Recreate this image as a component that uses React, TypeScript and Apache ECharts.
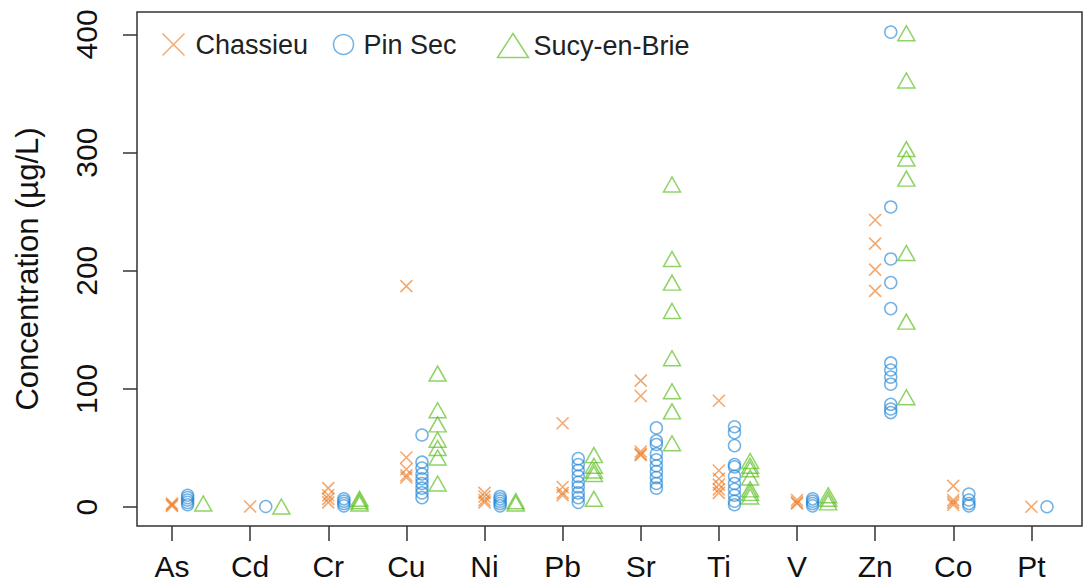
import React, { useEffect, useRef } from "react";
import * as echarts from "echarts";

const elements = ["As", "Cd", "Cr", "Cu", "Ni", "Pb", "Sr", "Ti", "V", "Zn", "Co", "Pt"];
const yTicks = [0, 100, 200, 300, 400];

const chassieu: number[][] = [
  [1, 2, 3],
  [0.5],
  [16, 10, 7, 4],
  [187, 42, 32, 27, 25],
  [12, 9, 6, 4],
  [71, 17, 12, 10],
  [107, 94, 47, 45, 44],
  [90, 31, 24, 19, 15, 12],
  [6, 4, 3],
  [243, 223, 201, 183],
  [18, 6, 4, 2],
  [0.3],
];

const pinSec: number[][] = [
  [10, 8, 6, 4, 2],
  [0.5],
  [7, 5, 3, 1],
  [61, 38, 33, 28, 24, 20, 16, 12, 8],
  [9, 7, 5, 3, 1],
  [41, 36, 31, 26, 21, 17, 12, 8, 4],
  [67, 56, 53, 45, 40, 35, 30, 25, 20, 16],
  [68, 63, 52, 36, 34, 26, 20, 15, 10, 5, 2],
  [7, 5, 3, 1],
  [402, 254, 210, 190, 168, 122, 116, 110, 104, 87, 83, 80],
  [11, 6, 3, 1],
  [0.3],
];

const sucy: number[][] = [
  [3],
  [0.5],
  [7, 5, 3],
  [113, 82, 70, 57, 50, 42, 20],
  [5, 3],
  [44, 35, 31, 28, 7],
  [273, 210, 190, 166, 126, 98, 81, 54],
  [39, 35, 32, 25, 15, 12, 9],
  [10, 7, 4],
  [401, 361, 303, 295, 278, 215, 157, 93],
  [],
  [],
];

const siteNames = ["Chassieu", "Pin Sec", "Sucy-en-Brie"];
const siteOffsets = [0, 0.2, 0.4];

const ORANGE = "rgba(238,120,30,0.8)";
const BLUE = "rgba(35,135,215,0.8)";
const GREEN = "rgba(90,190,30,0.85)";
const CROSS = "path://M0,0L10,10M10,0L0,10";
const FONT = "Liberation Sans, Arial, Helvetica, sans-serif";

function toPoints(values: number[][], offset: number) {
  const pts: number[][] = [];
  values.forEach((arr, i) => {
    arr.forEach((v) => pts.push([i + 1 + offset, v]));
  });
  return pts;
}

export default function App() {
  const ref = useRef<HTMLDivElement>(null);
  useEffect(() => {
    if (!ref.current) return;
    const chart = echarts.init(ref.current, undefined, { renderer: "svg" });
    const idx = elements.map((_, i) => i + 1);
    const legendBase = {
      orient: "horizontal",
      top: 26,
      itemGap: 0,
      textStyle: { fontSize: 27, color: "#222", fontFamily: FONT },
    };
    chart.setOption({
      animation: false,
      backgroundColor: "#fff",
      grid: {
        left: 137,
        top: 12,
        right: 9,
        bottom: 59,
        show: true,
        borderColor: "#333",
        borderWidth: 1.5,
        backgroundColor: "transparent",
      },
      legend: [
        {
          ...legendBase,
          data: [siteNames[0]],
          left: 155,
          itemWidth: 22,
          itemHeight: 22,
          itemStyle: { color: "none", borderColor: ORANGE, borderWidth: 1.5 },
          textStyle: { ...legendBase.textStyle, padding: [0, 0, 0, 6] },
        },
        {
          ...legendBase,
          data: [siteNames[1]],
          left: 326,
          itemWidth: 20,
          itemHeight: 20,
          itemStyle: { color: "none", borderColor: BLUE, borderWidth: 1.5 },
          textStyle: { ...legendBase.textStyle, padding: [0, 0, 0, 5] },
        },
        {
          ...legendBase,
          data: [siteNames[2]],
          left: 490,
          itemWidth: 31,
          itemHeight: 24,
          itemStyle: { color: "none", borderColor: GREEN, borderWidth: 1.5 },
          textStyle: { ...legendBase.textStyle, padding: [0, 0, 0, 0] },
        },
      ],
      xAxis: {
        type: "value",
        min: 0.552,
        max: 12.648,
        axisLine: { show: false, onZero: false },
        splitLine: { show: false },
        axisTick: {
          show: true,
          customValues: idx,
          length: 15,
          lineStyle: { color: "#333", width: 1.5 },
        },
        axisLabel: {
          customValues: idx,
          formatter: (v: number) => elements[Math.round(v) - 1] ?? "",
          fontSize: 30,
          color: "#111",
          fontFamily: FONT,
          margin: 25,
        },
      },
      yAxis: {
        type: "value",
        min: -16,
        max: 419,
        axisLine: { show: false, onZero: false },
        splitLine: { show: false },
        axisTick: {
          show: true,
          customValues: yTicks,
          length: 14,
          lineStyle: { color: "#333", width: 1.5 },
        },
        axisLabel: {
          customValues: yTicks,
          rotate: 90,
          fontSize: 30,
          color: "#111",
          fontFamily: FONT,
          margin: 36,
        },
        name: "Concentration (µg/L)",
        nameLocation: "middle",
        nameRotate: 90,
        nameGap: 94,
        nameTextStyle: { fontSize: 31, color: "#111", fontFamily: FONT },
      },
      series: [
        {
          name: siteNames[0],
          type: "scatter",
          symbol: CROSS,
          symbolSize: 12,
          itemStyle: { color: "none", borderColor: ORANGE, borderWidth: 1.6 },
          data: toPoints(chassieu, siteOffsets[0]),
        },
        {
          name: siteNames[1],
          type: "scatter",
          symbol: "circle",
          symbolSize: 12,
          itemStyle: { color: "none", borderColor: BLUE, borderWidth: 1.5 },
          data: toPoints(pinSec, siteOffsets[1]),
        },
        {
          name: siteNames[2],
          type: "scatter",
          symbol: "triangle",
          symbolSize: [17, 15],
          itemStyle: { color: "none", borderColor: GREEN, borderWidth: 1.5 },
          data: toPoints(sucy, siteOffsets[2]),
        },
      ],
    });
    return () => chart.dispose();
  }, []);
  return <div ref={ref} style={{ width: 1091, height: 585, position: "absolute", left: 0, top: 0 }} />;
}
